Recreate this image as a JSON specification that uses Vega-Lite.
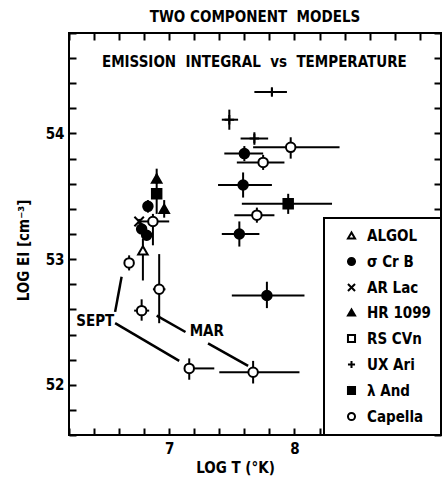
{
  "$schema": "https://vega.github.io/schema/vega-lite/v6.json",
  "width": 372,
  "height": 402,
  "autosize": "none",
  "padding": {"left": 69, "top": 33, "right": 3, "bottom": 44},
  "background": "white",
  "title": {"text": "TWO COMPONENT\u00a0\u00a0MODELS", "font": "DejaVu Sans Condensed", "fontSize": 15, "fontWeight": "bold", "color": "black", "anchor": "middle", "offset": 7},
  "config": {
    "view": {"stroke": "black", "strokeWidth": 2},
    "font": "DejaVu Sans Condensed",
    "legend": {"strokeWidth": 2}
  },
  "datasets": {
    "pts": [
      {"star": "UX Ari", "t": 7.82, "ei": 54.33, "tlo": 7.68, "thi": 7.94, "elo": 54.30, "ehi": 54.36},
      {"star": "UX Ari", "t": 7.48, "ei": 54.11, "tlo": 7.42, "thi": 7.55, "elo": 54.03, "ehi": 54.19},
      {"star": "UX Ari", "t": 7.68, "ei": 53.96, "tlo": 7.57, "thi": 7.79, "elo": 53.91, "ehi": 54.01},
      {"star": "σ Cr B", "t": 7.60, "ei": 53.84, "tlo": 7.44, "thi": 7.75, "elo": 53.78, "ehi": 53.90},
      {"star": "Capella", "t": 7.97, "ei": 53.89, "tlo": 7.67, "thi": 8.36, "elo": 53.80, "ehi": 53.97},
      {"star": "Capella", "t": 7.75, "ei": 53.77, "tlo": 7.54, "thi": 7.92, "elo": 53.71, "ehi": 53.83},
      {"star": "σ Cr B", "t": 7.59, "ei": 53.59, "tlo": 7.39, "thi": 7.82, "elo": 53.49, "ehi": 53.69},
      {"star": "λ And", "t": 7.95, "ei": 53.44, "tlo": 7.58, "thi": 8.30, "elo": 53.36, "ehi": 53.52},
      {"star": "Capella", "t": 7.70, "ei": 53.35, "tlo": 7.52, "thi": 7.84, "elo": 53.29, "ehi": 53.41},
      {"star": "σ Cr B", "t": 7.56, "ei": 53.20, "tlo": 7.42, "thi": 7.72, "elo": 53.10, "ehi": 53.30},
      {"star": "σ Cr B", "t": 7.78, "ei": 52.71, "tlo": 7.50, "thi": 8.08, "elo": 52.61, "ehi": 52.82},
      {"star": "Capella", "t": 7.16, "ei": 52.13, "tlo": 7.13, "thi": 7.36, "elo": 52.04, "ehi": 52.21},
      {"star": "Capella", "t": 7.67, "ei": 52.10, "tlo": 7.40, "thi": 8.04, "elo": 52.01, "ehi": 52.19},
      {"star": "λ And", "t": 6.90, "ei": 53.52, "tlo": 6.89, "thi": 6.91, "elo": 53.36, "ehi": 53.72},
      {"star": "HR 1099", "t": 6.90, "ei": 53.64, "tlo": 6.89, "thi": 6.91, "elo": 53.60, "ehi": 53.68},
      {"star": "σ Cr B", "t": 6.83, "ei": 53.42, "tlo": 6.82, "thi": 6.84, "elo": 53.37, "ehi": 53.47},
      {"star": "HR 1099", "t": 6.96, "ei": 53.40, "tlo": 6.95, "thi": 6.97, "elo": 53.33, "ehi": 53.47},
      {"star": "Capella", "t": 6.87, "ei": 53.30, "tlo": 6.76, "thi": 7.00, "elo": 53.11, "ehi": 53.36},
      {"star": "σ Cr B", "t": 6.78, "ei": 53.24, "tlo": 6.77, "thi": 6.79, "elo": 53.20, "ehi": 53.28},
      {"star": "σ Cr B", "t": 6.82, "ei": 53.19, "tlo": 6.81, "thi": 6.83, "elo": 53.15, "ehi": 53.23},
      {"star": "AR Lac", "t": 6.76, "ei": 53.30, "tlo": 6.75, "thi": 6.77, "elo": 53.28, "ehi": 53.32},
      {"star": "ALGOL", "t": 6.79, "ei": 53.07, "tlo": 6.78, "thi": 6.80, "elo": 52.83, "ehi": 53.16},
      {"star": "Capella", "t": 6.68, "ei": 52.97, "tlo": 6.65, "thi": 6.71, "elo": 52.91, "ehi": 53.03},
      {"star": "Capella", "t": 6.92, "ei": 52.76, "tlo": 6.87, "thi": 6.97, "elo": 52.49, "ehi": 53.04},
      {"star": "Capella", "t": 6.78, "ei": 52.59, "tlo": 6.72, "thi": 6.84, "elo": 52.51, "ehi": 52.68}
    ],
    "lines": [
      {"x1": 6.568, "y1": 52.58, "x2": 6.62, "y2": 52.86},
      {"x1": 6.568, "y1": 52.49, "x2": 7.08, "y2": 52.19},
      {"x1": 6.90, "y1": 52.55, "x2": 7.13, "y2": 52.42},
      {"x1": 7.31, "y1": 52.33, "x2": 7.63, "y2": 52.15}
    ],
    "labels": [
      {"label": "SEPT", "x": 6.41, "y": 52.51},
      {"label": "MAR", "x": 7.30, "y": 52.43},
      {"label": "EMISSION\u00a0\u00a0INTEGRAL\u00a0\u00a0vs\u00a0\u00a0TEMPERATURE", "x": 7.68, "y": 54.57}
    ]
  },
  "layer": [
    {
      "data": {"name": "pts"},
      "mark": {"type": "rule", "color": "black", "strokeWidth": 2},
      "encoding": {
        "x": {"field": "tlo", "type": "quantitative", "scale": {"domain": [6.2, 9.17], "nice": false, "zero": false},
          "axis": {"orient": "bottom", "offset": -7, "values": [6.2, 6.4, 6.6, 6.8, 7, 7.2, 7.4, 7.6, 7.8, 8, 8.2, 8.4, 8.6, 8.8, 9],
            "labelExpr": "(datum.value == 7 || datum.value == 8) ? format(datum.value, 'd') : ''",
            "tickSize": 7,
            "tickColor": "black", "tickWidth": 2, "domain": false, "grid": false,
            "labelFont": "DejaVu Sans Condensed", "labelFontSize": 15, "labelFontWeight": "bold", "labelColor": "black", "labelPadding": 6,
            "title": "LOG T (°K)", "titleFont": "DejaVu Sans Condensed", "titleFontSize": 15, "titleFontWeight": "bold", "titleColor": "black",
            "titleX": 166, "titleY": 39, "titleBaseline": "middle"}},
        "x2": {"field": "thi"},
        "y": {"field": "ei", "type": "quantitative", "scale": {"domain": [51.6, 54.8], "nice": false, "zero": false},
          "axis": {"orient": "left", "offset": -7, "values": [51.6, 51.8, 52, 52.2, 52.4, 52.6, 52.8, 53, 53.2, 53.4, 53.6, 53.8, 54, 54.2, 54.4, 54.6, 54.8],
            "labelExpr": "(datum.value == 52 || datum.value == 53 || datum.value == 54) ? format(datum.value, 'd') : ''",
            "tickSize": 7,
            "tickColor": "black", "tickWidth": 2, "domain": false, "grid": false,
            "labelFont": "DejaVu Sans Condensed", "labelFontSize": 15, "labelFontWeight": "bold", "labelColor": "black", "labelPadding": 5,
            "title": "LOG EI [cm⁻³]", "titleFont": "DejaVu Sans Condensed", "titleFontSize": 15, "titleFontWeight": "bold", "titleColor": "black",
            "titleX": -53, "titleY": 217, "titleBaseline": "middle", "titleAngle": -90}}
      }
    },
    {
      "data": {"name": "pts"},
      "mark": {"type": "rule", "color": "black", "strokeWidth": 2},
      "encoding": {
        "x": {"field": "t", "type": "quantitative",
          "axis": {"orient": "top", "offset": -7, "values": [6.2, 6.4, 6.6, 6.8, 7, 7.2, 7.4, 7.6, 7.8, 8, 8.2, 8.4, 8.6, 8.8, 9],
            "labels": false, "title": null, "domain": false, "grid": false,
            "tickSize": 7, "tickColor": "black", "tickWidth": 2}},
        "y": {"field": "elo", "type": "quantitative",
          "axis": {"orient": "right", "offset": -7, "values": [51.6, 51.8, 52, 52.2, 52.4, 52.6, 52.8, 53, 53.2, 53.4, 53.6, 53.8, 54, 54.2, 54.4, 54.6, 54.8],
            "labels": false, "title": null, "domain": false, "grid": false,
            "tickSize": 7, "tickColor": "black", "tickWidth": 2}},
        "y2": {"field": "ehi"}
      }
    },
    {
      "data": {"name": "lines"},
      "mark": {"type": "rule", "color": "black", "strokeWidth": 2.5},
      "encoding": {
        "x": {"field": "x1", "type": "quantitative", "axis": null},
        "x2": {"field": "x2"},
        "y": {"field": "y1", "type": "quantitative", "axis": null},
        "y2": {"field": "y2"}
      }
    },
    {
      "data": {"name": "labels"},
      "mark": {"type": "text", "font": "DejaVu Sans Condensed", "fontSize": 15, "fontWeight": "bold", "color": "black", "align": "center", "baseline": "middle"},
      "encoding": {
        "x": {"field": "x", "type": "quantitative", "axis": null},
        "y": {"field": "y", "type": "quantitative", "axis": null},
        "text": {"field": "label"}
      }
    },
    {
      "data": {"name": "pts"},
      "mark": {"type": "point", "filled": false, "size": 90, "strokeWidth": 2, "opacity": 1},
      "encoding": {
        "x": {"field": "t", "type": "quantitative", "axis": null},
        "y": {"field": "ei", "type": "quantitative", "axis": null},
        "stroke": {"field": "star", "type": "nominal",
          "scale": {"domain": ["ALGOL", "σ Cr B", "AR Lac", "HR 1099", "RS CVn", "UX Ari", "λ And", "Capella"],
            "range": ["black", "black", "black", "black", "black", "black", "black", "black"]},
          "legend": {"title": null, "orient": "bottom-right", "offset": 0, "strokeColor": "black", "fillColor": "white", "padding": 10,
            "labelFont": "DejaVu Sans Condensed", "labelFontSize": 15, "labelFontWeight": "bold", "labelColor": "black",
            "symbolSize": 50, "symbolStrokeWidth": 2, "symbolOffset": 10, "labelOffset": 8, "rowPadding": 9}},
        "shape": {"field": "star", "type": "nominal",
          "scale": {"domain": ["ALGOL", "σ Cr B", "AR Lac", "HR 1099", "RS CVn", "UX Ari", "λ And", "Capella"],
            "range": ["triangle-up", "circle", "M-1,-1L1,1M1,-1L-1,1", "triangle-up", "square", "M-1,0L1,0M0,-1L0,1", "square", "circle"]},
          "legend": {"title": null, "orient": "bottom-right", "offset": 0, "strokeColor": "black", "fillColor": "white", "padding": 10,
            "labelFont": "DejaVu Sans Condensed", "labelFontSize": 15, "labelFontWeight": "bold", "labelColor": "black",
            "symbolSize": 50, "symbolStrokeWidth": 2, "symbolOffset": 10, "labelOffset": 8, "rowPadding": 9}},
        "fill": {"field": "star", "type": "nominal",
          "scale": {"domain": ["ALGOL", "σ Cr B", "AR Lac", "HR 1099", "RS CVn", "UX Ari", "λ And", "Capella"],
            "range": ["white", "black", "black", "black", "white", "black", "black", "white"]},
          "legend": {"title": null, "orient": "bottom-right", "offset": 0, "strokeColor": "black", "fillColor": "white", "padding": 10,
            "labelFont": "DejaVu Sans Condensed", "labelFontSize": 15, "labelFontWeight": "bold", "labelColor": "black",
            "symbolSize": 50, "symbolStrokeWidth": 2, "symbolOffset": 10, "labelOffset": 8, "rowPadding": 9}}
      }
    }
  ],
  "resolve": {"axis": {"x": "independent", "y": "independent"}}
}
